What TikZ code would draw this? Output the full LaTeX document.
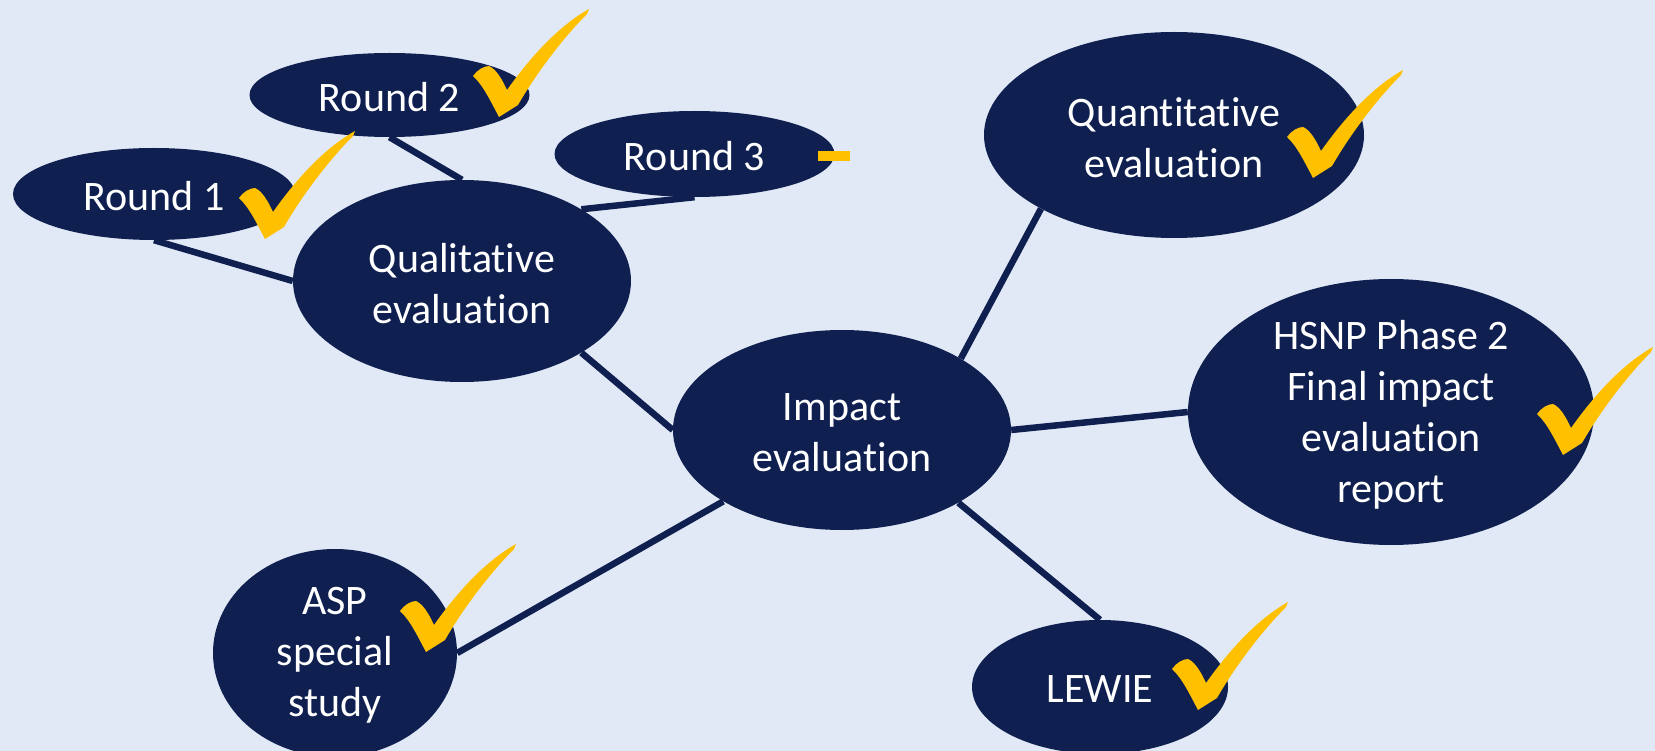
\documentclass[tikz,border=0pt]{standalone}
\usepackage{fontspec}
\setmainfont{Carlito}[Ligatures=NoCommon]
\usetikzlibrary{shapes.geometric}
\definecolor{bgblue}{RGB}{225,233,246}
\definecolor{navy}{RGB}{14,31,80}
\definecolor{gold}{RGB}{255,192,0}
\begin{document}
\begin{tikzpicture}[x=1pt,y=-1pt,
  blob/.style={ellipse, fill=navy, draw=none, inner sep=0pt},
  lbl/.style={text=white, align=center, font=\fontsize{42}{51}\selectfont, yshift=-2.5pt},
  conn/.style={draw=navy, line width=6.5pt},
  checkmark/.pic={
    \fill[gold] (0,0) .. controls (-8,-15) and (-16,-32) .. (-26,-41)
      .. controls (-22,-47) and (-15,-51) .. (-10,-51)
      .. controls (-3,-48) and (3,-38) .. (8,-27)
      .. controls (30,-58) and (58,-90) .. (90,-108)
      -- (88,-103)
      .. controls (65,-80) and (38,-45) .. (19,-12)
      -- cycle;
  }
]
\fill[bgblue] (0,0) rectangle (1655,751);
\useasboundingbox (0,0) rectangle (1655,751);

\node[blob, minimum width=280pt, minimum height=84pt, label={[lbl]center:Round 2}] (r2) at (389.5,95) {};
\node[blob, minimum width=282pt, minimum height=92pt, label={[lbl]center:Round 1}] (r1) at (154,194) {};
\node[blob, minimum width=280pt, minimum height=86pt, label={[lbl]center:Round 3}] (r3) at (694.5,154) {};
\node[blob, minimum width=338pt, minimum height=202pt, label={[lbl]center:Qualitative\\evaluation}] (qual) at (462,281) {};
\node[blob, minimum width=338pt, minimum height=200pt, label={[lbl]center:Impact\\evaluation}] (imp) at (842,430) {};
\node[blob, minimum width=380pt, minimum height=206pt, label={[lbl]center:Quantitative\\evaluation}] (quant) at (1174,135) {};
\node[blob, minimum width=406pt, minimum height=266pt, label={[lbl]center:HSNP Phase 2\\Final impact\\evaluation\\report}] (hsnp) at (1391,412) {};
\node[blob, minimum width=244pt, minimum height=208pt, label={[lbl]center:ASP\\special\\study}] (asp) at (335,653) {};
\node[blob, minimum width=256pt, minimum height=134pt, label={[lbl]center:LEWIE}] (lewie) at (1100,687) {};

\draw[conn] (r1.south) -- (qual.west);
\draw[conn] (r2.south) -- (qual.north);
\draw[conn] (r3.south) -- (qual.31);
\draw[conn] (qual.-31) -- (imp.west);
\draw[conn] (imp.31) -- (quant.209.5);
\draw[conn] (imp.east) -- (hsnp.west);
\draw[conn] (imp.211) -- (asp.east);
\draw[conn] (imp.-32) -- (lewie.north);

\pic at (499,117) {checkmark};
\pic at (265,239) {checkmark};
\pic at (1313,178) {checkmark};
\pic at (1563,455) {checkmark};
\pic at (426,652) {checkmark};
\pic at (1198,710) {checkmark};
\fill[gold] (818,151) rectangle (850,161);
\end{tikzpicture}
\end{document}
